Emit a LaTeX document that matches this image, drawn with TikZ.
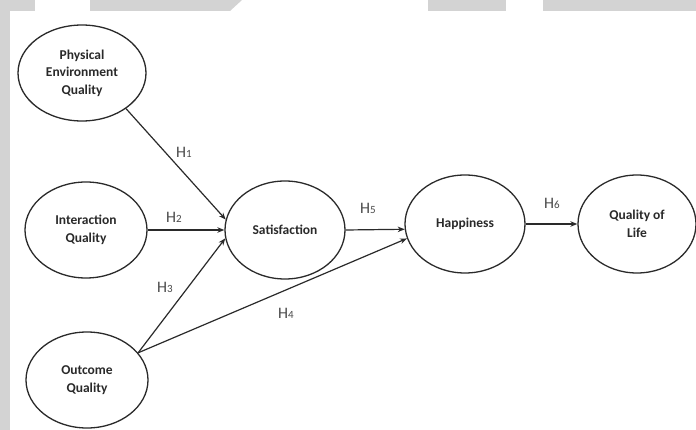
\documentclass[tikz,border=0pt]{standalone}
\usepackage{fontspec}
\setmainfont{Carlito}
\usetikzlibrary{shapes.geometric,arrows.meta}
\definecolor{barfill}{HTML}{D3D3D3}
\definecolor{ink}{HTML}{2A2A2A}
\definecolor{labink}{HTML}{4A4A4A}
\begin{document}
\begin{tikzpicture}[x=1pt,y=-1pt,
  latent/.style={ellipse, draw=ink, line width=1.3pt, inner sep=0pt,
    font=\fontsize{13.5}{17.5}\selectfont\bfseries, text=ink, align=center},
  pathline/.style={draw=ink, line width=1.2pt, -{Stealth[length=7pt,width=5.5pt]}},
  hyp/.style={font=\fontsize{16}{16}\selectfont, text=labink, inner sep=0pt}]
\useasboundingbox (0,0) rectangle (696,430);
\fill[white] (0,0) rectangle (696,430);
% background bars
\fill[barfill] (0,0) rectangle (35,11);
\fill[barfill] (90,0) -- (242,0) -- (230,11) -- (90,11) -- cycle;
\fill[barfill] (428,0) rectangle (506,11);
\fill[barfill] (543,0) rectangle (696,11);
\fill[barfill] (0,0) rectangle (10,430);
% constructs
\node[latent, minimum width=128pt, minimum height=96pt] (peq) at (82,73) {Physical\\Environment\\Quality};
\node[latent, minimum width=122pt, minimum height=96pt] (iq) at (86,230) {Interaction\\Quality};
\node[latent, minimum width=122pt, minimum height=96pt] (oq) at (87,380) {Outcome\\Quality};
\node[latent, minimum width=120pt, minimum height=98pt] (sat) at (285,230) {Satisfaction};
\node[latent, minimum width=120pt, minimum height=98pt] (hap) at (465,224) {Happiness};
\node[latent, minimum width=118pt, minimum height=98pt] (qol) at (637,224) {Quality of\\Life};
% paths
\draw[pathline] (peq.-39) -- (sat.170);
\draw[pathline] (iq.east) -- (sat.west);
\draw[pathline] (oq.28) -- (sat.188);
\draw[pathline] (oq.28) -- (hap.194);
\draw[pathline] (sat.east) -- (hap.185);
\draw[pathline] (hap.east) -- (qol.west);
% hypothesis labels
\node[hyp] (h1) at (184,152) {H{\fontsize{11}{11}\selectfont 1}};
\node[hyp] (h2) at (174,217) {H{\fontsize{11}{11}\selectfont 2}};
\node[hyp] (h3) at (165,287) {H{\fontsize{11}{11}\selectfont 3}};
\node[hyp] (h4) at (286,313) {H{\fontsize{11}{11}\selectfont 4}};
\node[hyp] (h5) at (368,208) {H{\fontsize{11}{11}\selectfont 5}};
\node[hyp] (h6) at (552,203) {H{\fontsize{11}{11}\selectfont 6}};
\end{tikzpicture}
\end{document}
